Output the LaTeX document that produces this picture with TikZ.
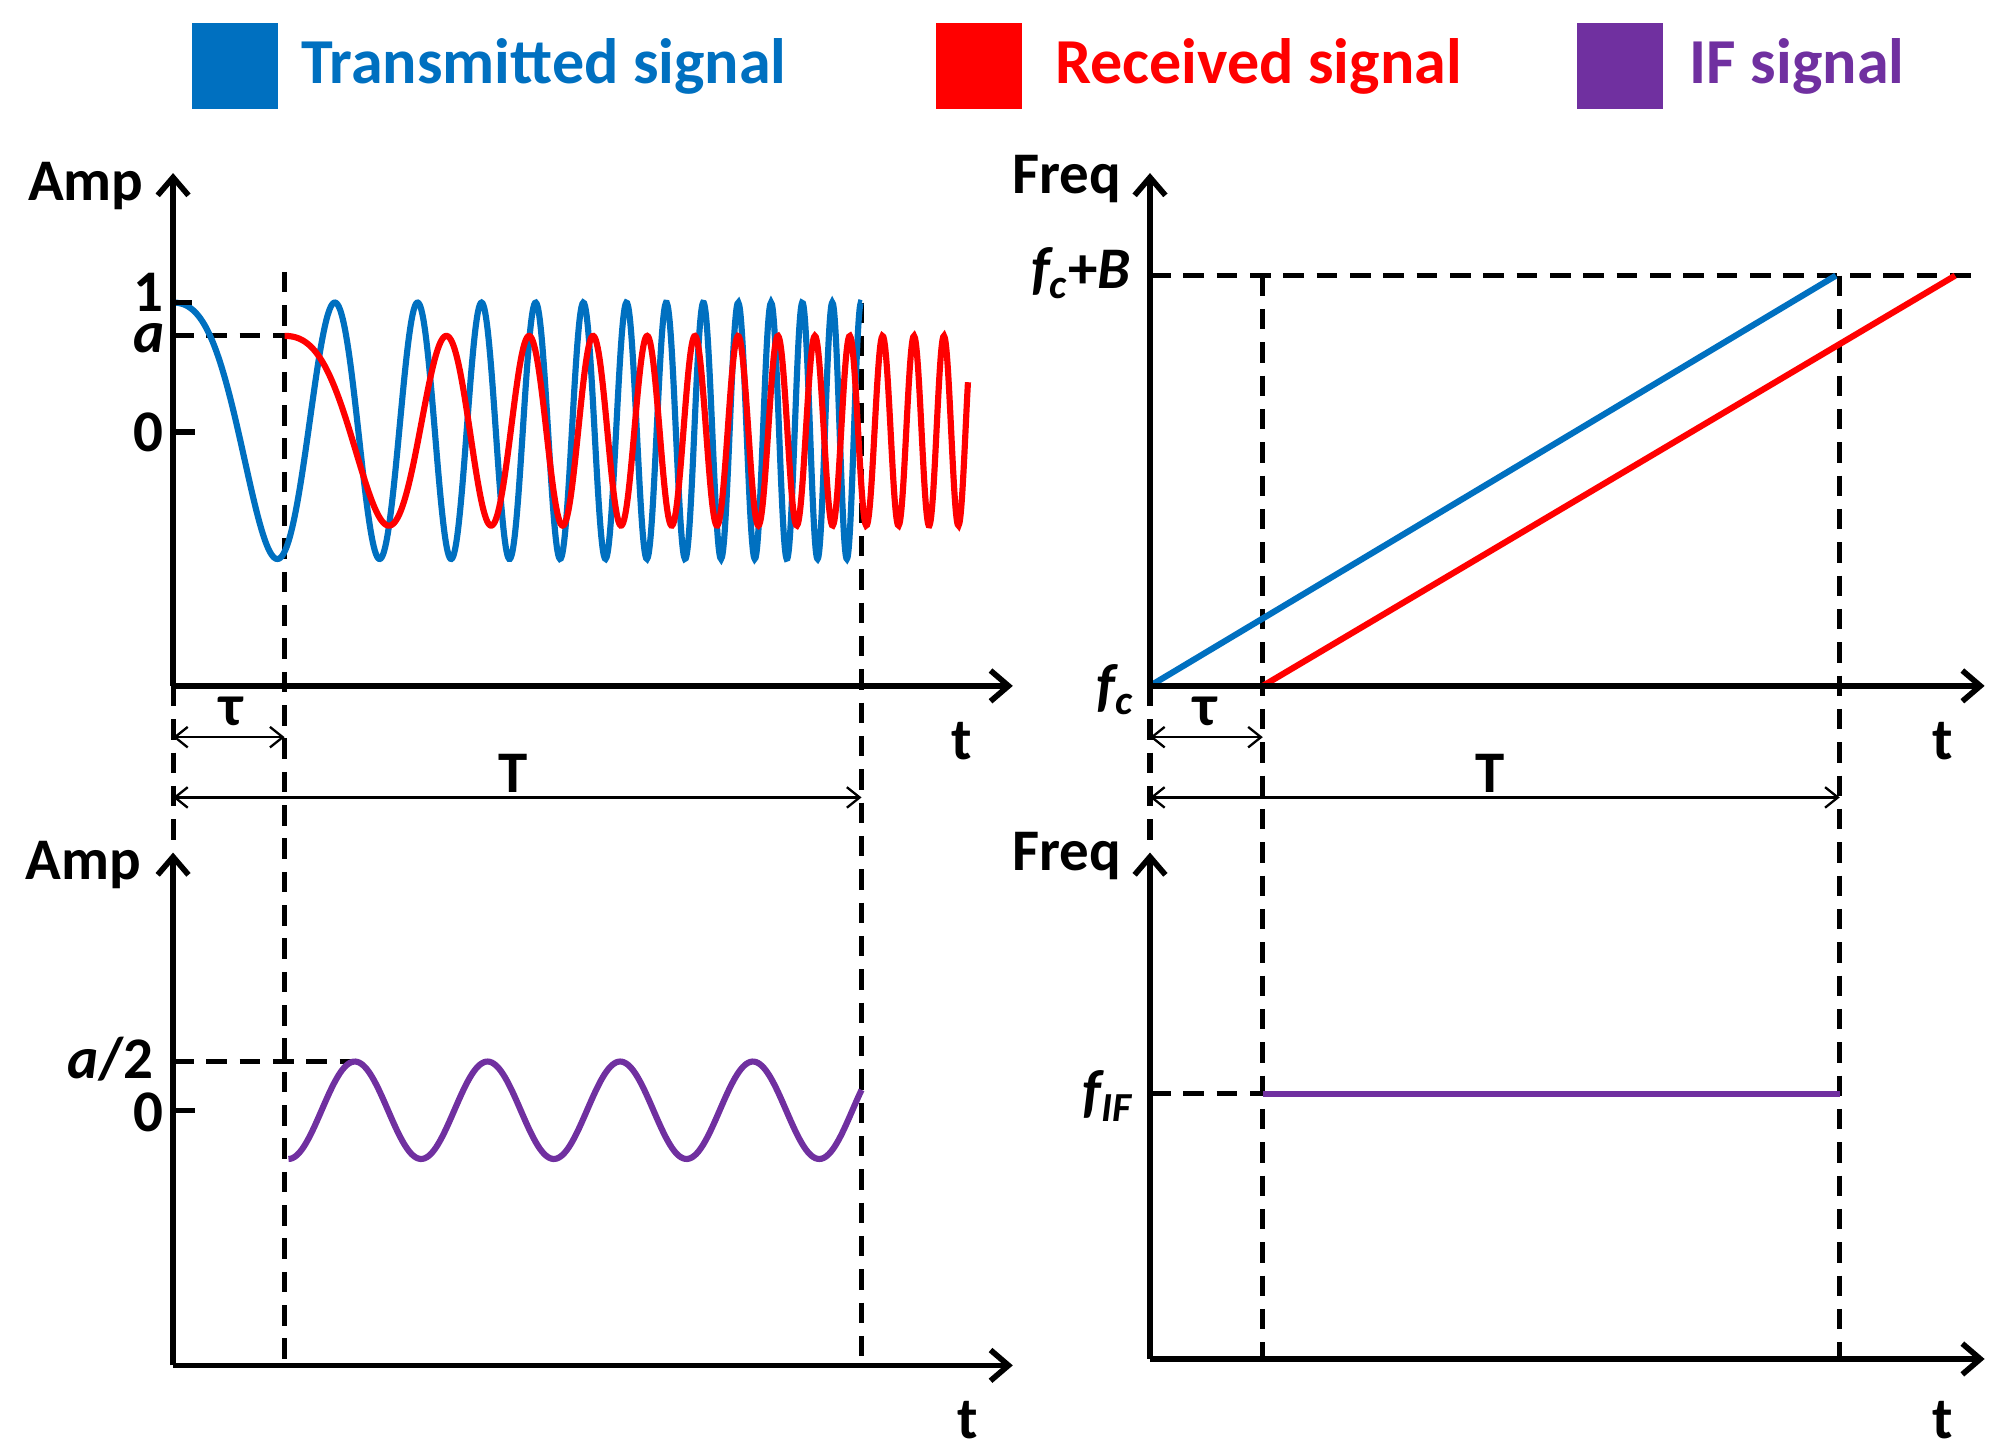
\documentclass[tikz,border=0pt]{standalone}
\usepackage{fontspec}
\setmainfont{Carlito}
\usetikzlibrary{arrows.meta}
\definecolor{tblue}{RGB}{0,112,192}
\definecolor{rred}{RGB}{255,0,0}
\definecolor{ifp}{RGB}{112,48,160}
\begin{document}
\begin{tikzpicture}[x=0.5pt,y=-0.5pt,
  axis/.style={line width=2.2pt,-{Straight Barb[length=7pt,width=12pt,line width=2.2pt]}},
  dsh/.style={line width=2pt,dash pattern=on 8pt off 5pt},
  dim/.style={line width=0.9pt,{Straight Barb[length=5pt,width=8pt]}-{Straight Barb[length=5pt,width=8pt]}},
  lab/.style={font=\fontsize{23}{27}\selectfont\bfseries},
  leg/.style={font=\fontsize{25}{29}\selectfont\bfseries},
  sig/.style={line width=2.4pt}]
\useasboundingbox (0,0) rectangle (1560,1134);
% legend
\fill[tblue] (150,18) rectangle (217,85);
\node[leg,text=tblue,anchor=west] (l1) at (228,52) {Transmitted signal};
\fill[rred] (730,18) rectangle (797,85);
\node[leg,text=rred,anchor=west] (l2) at (816,52) {Received signal};
\fill[ifp] (1230,18) rectangle (1297,85);
\node[leg,text=ifp,anchor=west] (l3) at (1311,52) {IF signal};
% coordinates
\coordinate (o1) at (135,535); \coordinate (y1) at (135,135); \coordinate (x1) at (790,535);
\coordinate (o2) at (135,1065); \coordinate (y2) at (135,665); \coordinate (x2) at (790,1065);
\coordinate (o3) at (897,535); \coordinate (y3) at (897,135); \coordinate (x3) at (1548,535);
\coordinate (o4) at (897,1060); \coordinate (y4) at (897,665); \coordinate (x4) at (1548,1060);
% dashed guides
\draw[dsh] (135,262) -- (222,262);
\draw[dsh] (222,212) -- (222,1065);
\draw[dsh] (672,236) -- (672,1065);
\draw[dsh] (135,535) -- (135,660);
\draw[dsh] (135,828) -- (280,828);
\draw[dsh] (897,215) -- (1545,215);
\draw[dsh] (985,215) -- (985,1060);
\draw[dsh] (1435,215) -- (1435,1060);
\draw[dsh] (897,535) -- (897,655);
\draw[dsh] (897,853) -- (985,853);
% signals
\draw[sig,tblue] plot[domain=0:537,samples=800,smooth] ({135+\x},{336-100*cos(360*(0.002908*\x+(0.006298*\x)^2))});
\draw[sig,rred] plot[domain=0:533,samples=800,smooth] ({222+\x},{336-74*cos(360*(0.002908*\x+(0.006298*\x)^2))});
\draw[sig,ifp] plot[domain=0:447,samples=300,smooth] ({225+\x},{866+38*cos(3.478*\x)});
\draw[sig,tblue] (897,535) -- (1432,215);
\draw[sig,rred] (985,535) -- (1525,215);
\draw[sig,ifp] (985,853) -- (1435,853);
% axes
\draw[axis] (o1) -- (y1); \draw[axis] (o1) -- (x1);
\draw[axis] (o2) -- (y2); \draw[axis] (o2) -- (x2);
\draw[axis] (o3) -- (y3); \draw[axis] (o3) -- (x3);
\draw[axis] (o4) -- (y4); \draw[axis] (o4) -- (x4);
\draw[line width=2pt] (135,236) -- (150,236) (135,262) -- (150,262) (135,337) -- (152,337);
\draw[line width=2pt] (135,866) -- (152,866);
% labels
\node[lab] (amp1) at (67,145) {Amp};
\node[lab] (amp2) at (65,675) {Amp};
\node[lab] (fr1) at (832,140) {Freq};
\node[lab] (fr2) at (832,668) {Freq};
\node[lab] (one) at (116,228) {1};
\node[lab,font=\fontsize{23}{27}\selectfont\bfseries\itshape] (a) at (116,264) {a};
\node[lab] (z1) at (116,337) {0};
\node[lab] (ah) at (86,826) {\itshape a\upshape/2};
\node[lab] (z2) at (116,868) {0};
\node[lab] (fcb) at (843,213) {\itshape f\textsubscript{c}\upshape+\itshape B};
\node[lab] (fc) at (870,538) {\itshape f\textsubscript{c}};
\node[lab] (fif) at (864,855) {\itshape f\textsubscript{IF}};
\foreach \p/\q in {750/578,1515/578,755/1108,1515/1108} \node[lab] at (\p,\q) {t};
% dimension arrows
\coordinate (d1a) at (135,575); \coordinate (d1b) at (222,575);
\coordinate (d2a) at (135,622); \coordinate (d2b) at (672,622);
\coordinate (d3a) at (897,575); \coordinate (d3b) at (985,575);
\coordinate (d4a) at (897,622); \coordinate (d4b) at (1435,622);
\draw[dim] (d1a) -- (d1b); \draw[dim] (d2a) -- (d2b);
\draw[dim] (d3a) -- (d3b); \draw[dim] (d4a) -- (d4b);
\node[lab] (tau1) at (180,555) {τ};
\node[lab] (T1) at (400,603) {T};
\node[lab] (tau2) at (940,555) {τ};
\node[lab] (T2) at (1162,603) {T};
\end{tikzpicture}
\end{document}
